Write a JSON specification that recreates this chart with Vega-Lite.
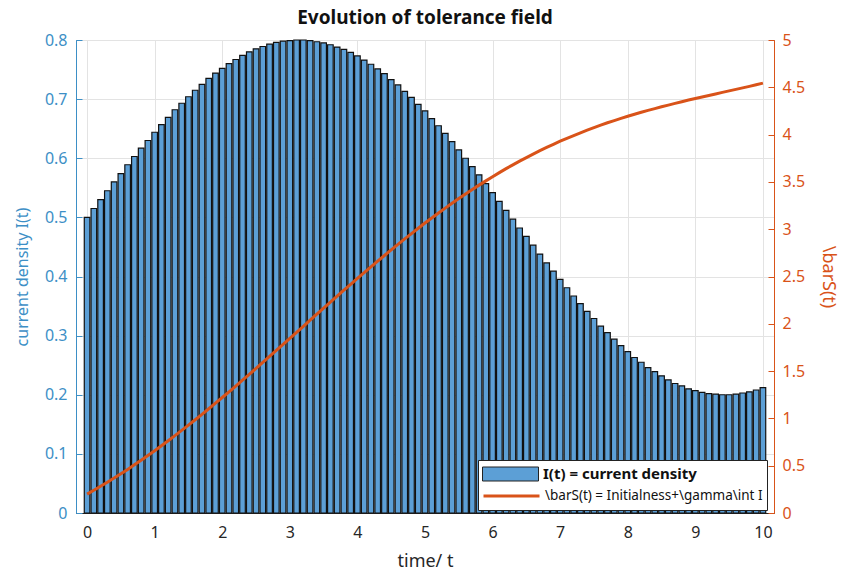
{
  "$schema": "https://vega.github.io/schema/vega-lite/v6.json",
  "width": 698,
  "height": 473,
  "autosize": "none",
  "padding": {"left": 76, "top": 40, "right": 69, "bottom": 61},
  "background": "white",
  "config": {
    "font": "Noto Sans",
    "view": {"stroke": "#262626", "strokeWidth": 1}
  },
  "title": {"text": "Evolution of tolerance field", "fontSize": 19, "fontWeight": "bold", "color": "#111", "offset": 4, "anchor": "middle", "font": "Noto Sans"},
  "data": {"values": [
    {"t":0,"I":0.5,"S":0.2},{"t":0.1,"I":0.515,"S":0.241},{"t":0.2,"I":0.530,"S":0.282},{"t":0.3,"I":0.545,"S":0.325},{"t":0.4,"I":0.560,"S":0.370},
    {"t":0.5,"I":0.574,"S":0.415},{"t":0.6,"I":0.589,"S":0.461},{"t":0.7,"I":0.603,"S":0.509},{"t":0.8,"I":0.617,"S":0.558},{"t":0.9,"I":0.630,"S":0.608},
    {"t":1.0,"I":0.644,"S":0.659},{"t":1.1,"I":0.657,"S":0.711},{"t":1.2,"I":0.669,"S":0.764},{"t":1.3,"I":0.682,"S":0.818},{"t":1.4,"I":0.693,"S":0.873},
    {"t":1.5,"I":0.704,"S":0.929},{"t":1.6,"I":0.715,"S":0.986},{"t":1.7,"I":0.725,"S":1.043},{"t":1.8,"I":0.735,"S":1.102},{"t":1.9,"I":0.744,"S":1.161},
    {"t":2.0,"I":0.752,"S":1.221},{"t":2.1,"I":0.760,"S":1.281},{"t":2.2,"I":0.767,"S":1.342},{"t":2.3,"I":0.774,"S":1.404},{"t":2.4,"I":0.780,"S":1.466},
    {"t":2.5,"I":0.785,"S":1.529},{"t":2.6,"I":0.789,"S":1.592},{"t":2.7,"I":0.793,"S":1.655},{"t":2.8,"I":0.796,"S":1.718},{"t":2.9,"I":0.798,"S":1.782},
    {"t":3.0,"I":0.799,"S":1.846},{"t":3.1,"I":0.800,"S":1.910},{"t":3.2,"I":0.800,"S":1.974},{"t":3.3,"I":0.799,"S":2.038},{"t":3.4,"I":0.797,"S":2.102},
    {"t":3.5,"I":0.795,"S":2.166},{"t":3.6,"I":0.792,"S":2.229},{"t":3.7,"I":0.788,"S":2.292},{"t":3.8,"I":0.784,"S":2.355},{"t":3.9,"I":0.779,"S":2.418},
    {"t":4.0,"I":0.773,"S":2.480},{"t":4.1,"I":0.766,"S":2.541},{"t":4.2,"I":0.759,"S":2.602},{"t":4.3,"I":0.751,"S":2.663},{"t":4.4,"I":0.743,"S":2.722},
    {"t":4.5,"I":0.733,"S":2.782},{"t":4.6,"I":0.724,"S":2.840},{"t":4.7,"I":0.713,"S":2.897},{"t":4.8,"I":0.703,"S":2.954},{"t":4.9,"I":0.691,"S":3.010},
    {"t":5.0,"I":0.680,"S":3.065},{"t":5.1,"I":0.667,"S":3.118},{"t":5.2,"I":0.655,"S":3.171},{"t":5.3,"I":0.642,"S":3.223},{"t":5.4,"I":0.628,"S":3.274},
    {"t":5.5,"I":0.614,"S":3.324},{"t":5.6,"I":0.600,"S":3.372},{"t":5.7,"I":0.586,"S":3.420},{"t":5.8,"I":0.572,"S":3.466},{"t":5.9,"I":0.557,"S":3.511},
    {"t":6.0,"I":0.542,"S":3.555},{"t":6.1,"I":0.527,"S":3.598},{"t":6.2,"I":0.512,"S":3.640},{"t":6.3,"I":0.497,"S":3.680},{"t":6.4,"I":0.482,"S":3.719},
    {"t":6.5,"I":0.468,"S":3.757},{"t":6.6,"I":0.453,"S":3.794},{"t":6.7,"I":0.438,"S":3.830},{"t":6.8,"I":0.423,"S":3.864},{"t":6.9,"I":0.409,"S":3.897},
    {"t":7.0,"I":0.395,"S":3.930},{"t":7.1,"I":0.381,"S":3.961},{"t":7.2,"I":0.367,"S":3.990},{"t":7.3,"I":0.354,"S":4.019},{"t":7.4,"I":0.341,"S":4.047},
    {"t":7.5,"I":0.329,"S":4.074},{"t":7.6,"I":0.316,"S":4.100},{"t":7.7,"I":0.305,"S":4.125},{"t":7.8,"I":0.294,"S":4.148},{"t":7.9,"I":0.283,"S":4.172},
    {"t":8.0,"I":0.273,"S":4.194},{"t":8.1,"I":0.263,"S":4.215},{"t":8.2,"I":0.255,"S":4.236},{"t":8.3,"I":0.246,"S":4.256},{"t":8.4,"I":0.239,"S":4.275},
    {"t":8.5,"I":0.232,"S":4.294},{"t":8.6,"I":0.225,"S":4.312},{"t":8.7,"I":0.219,"S":4.330},{"t":8.8,"I":0.215,"S":4.348},{"t":8.9,"I":0.210,"S":4.365},
    {"t":9.0,"I":0.207,"S":4.381},{"t":9.1,"I":0.204,"S":4.398},{"t":9.2,"I":0.202,"S":4.414},{"t":9.3,"I":0.201,"S":4.430},{"t":9.4,"I":0.200,"S":4.446},
    {"t":9.5,"I":0.200,"S":4.462},{"t":9.6,"I":0.201,"S":4.478},{"t":9.7,"I":0.203,"S":4.494},{"t":9.8,"I":0.205,"S":4.510},{"t":9.9,"I":0.208,"S":4.527},
    {"t":10.0,"I":0.212,"S":4.544}
  ]},
  "encoding": {
    "x": {
      "field": "t", "type": "quantitative",
      "scale": {"domain": [-0.09, 10.09], "nice": false, "zero": false},
      "axis": {
        "title": "time/ t", "values": [0,1,2,3,4,5,6,7,8,9,10], "format": "d",
        "grid": true, "gridColor": "#e3e3e3",
        "domainColor": "#262626", "tickColor": "#262626", "tickSize": -6,
        "labelColor": "#262626", "labelFontSize": 16, "labelPadding": 17,
        "titleFontSize": 18, "titleColor": "#262626", "titleFontWeight": "normal", "titlePadding": 12
      }
    }
  },
  "layer": [
    {
      "mark": {"type": "bar", "size": 5.6, "stroke": "#111", "strokeWidth": 1.2, "orient": "vertical"},
      "encoding": {
        "y": {
          "field": "I", "type": "quantitative",
          "scale": {"domain": [0, 0.8], "nice": false},
          "axis": {
            "title": "current density  I(t)", "orient": "left", "format": "~g",
            "values": [0,0.1,0.2,0.3,0.4,0.5,0.6,0.7,0.8],
            "grid": true, "gridColor": "#e3e3e3",
            "domainColor": "#3d8fc6", "tickColor": "#3d8fc6", "tickSize": -6,
            "labelColor": "#3d8fc6", "labelFontSize": 16, "labelPadding": 15,
            "titleColor": "#3d8fc6", "titleFontSize": 16, "titleFontWeight": "normal", "titlePadding": 14
          }
        },
        "fill": {
          "datum": "I(t) = current density",
          "type": "nominal",
          "scale": {"range": ["#5c9fd6"]},
          "legend": {
            "title": null,
            "orient": "none", "legendX": 402, "legendY": 420, "zindex": 2,
            "padding": 4,
            "symbolType": "M-1,-0.25H1V0.25H-1Z", "symbolSize": 3136,
            "symbolStrokeColor": "#222", "symbolStrokeWidth": 1, "symbolOpacity": 1,
            "clipHeight": 20, "labelOffset": 4, "labelLimit": 400,
            "labelFontSize": 15, "labelFontWeight": "bold", "labelColor": "#111"
          }
        }
      }
    },
    {
      "mark": {"type": "line", "strokeWidth": 3},
      "encoding": {
        "y": {
          "field": "S", "type": "quantitative",
          "scale": {"domain": [0, 5], "nice": false},
          "axis": {
            "title": "\\barS(t)", "orient": "right", "format": "~g",
            "values": [0,0.5,1,1.5,2,2.5,3,3.5,4,4.5,5],
            "grid": false,
            "domainColor": "#D95319", "tickColor": "#D95319", "tickSize": -6,
            "labelColor": "#D95319", "labelFontSize": 16, "labelPadding": 14,
            "titleColor": "#D95319", "titleFontSize": 18, "titleFontWeight": "normal", "titlePadding": 14
          }
        },
        "stroke": {
          "datum": "\\barS(t) = Initialness+\\gamma\\int I",
          "type": "nominal",
          "scale": {"range": ["#D95319"]},
          "legend": {
            "title": "\u00a0", "titleOrient": "top", "titleFontSize": 18, "titlePadding": 4,
            "orient": "none", "legendX": 402, "legendY": 420, "zindex": 1,
            "fillColor": "white", "strokeColor": "#222", "padding": 4,
            "symbolType": "stroke", "symbolSize": 3136, "symbolStrokeWidth": 3, "symbolOpacity": 1,
            "clipHeight": 20, "labelOffset": 4, "labelLimit": 400,
            "labelFontSize": 13.5, "labelColor": "#111"
          }
        }
      }
    }
  ],
  "resolve": {"scale": {"y": "independent"}}
}
